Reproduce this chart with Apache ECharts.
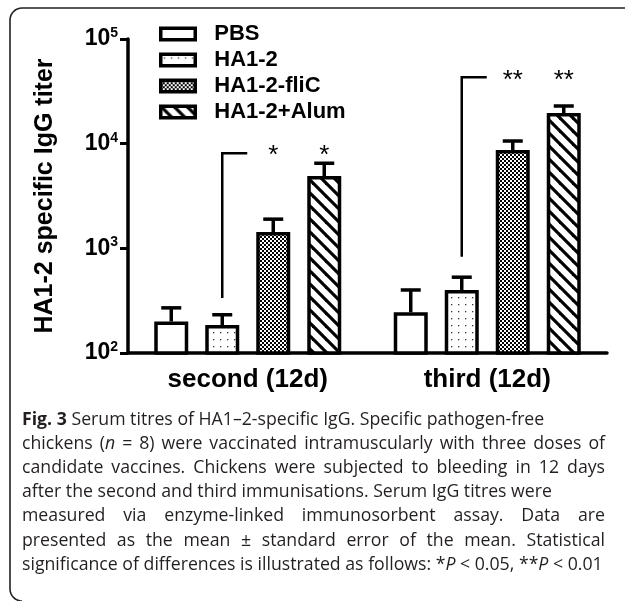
<!DOCTYPE html>
<html><head><meta charset="utf-8">
<script src="https://cdn.jsdelivr.net/npm/echarts@6/dist/echarts.min.js"></script>
<style>html,body{margin:0;padding:0;background:#fff}#c{width:627px;height:601px}</style>
</head><body><div id="c"></div>
<script>
// ---------------- data ----------------
const categories = ['second (12d)', 'third (12d)'];
const seriesNames = ['PBS', 'HA1-2', 'HA1-2-fliC', 'HA1-2+Alum'];
const pbsMean   = [200, 245];
const pbsUpper  = [270, 400];
const ha12Mean  = [185, 400];
const ha12Upper = [232, 530];
const flicMean  = [1430, 8700];
const flicUpper = [1900, 10600];
const alumMean  = [4900, 19600];
const alumUpper = [6500, 22900];
const sigBracketBottom = [335, 830];
const sigBracketTop = [8100, 43000];
const sigLabels = ['*', '**'];
const yAxisName = 'HA1-2 specific IgG titer';
const captionLines = [
  '{b:Fig.} {b:3} Serum titres of HA1\u20132-specific IgG. Specific pathogen-free',
  'chickens ({i:n} = 8) were vaccinated intramuscularly with three doses of',
  'candidate vaccines. Chickens were subjected to bleeding in 12 days',
  'after the second and third immunisations. Serum IgG titres were',
  'measured via enzyme-linked immunosorbent assay. Data are',
  'presented as the mean \u00b1 standard error of the mean. Statistical',
  'significance of differences is illustrated as follows: *{i:P} < 0.05, **{i:P} < 0.01'
];
const captionJustify = [false, true, true, false, true, true, false];

// ---------------- styling ----------------
const FONT = 'Arial, "Liberation Sans", sans-serif';
const BAR_W = 34, BAR_STEP = 51, LW = 3.5;

function makePattern(draw, w, h) {
  const c = document.createElement('canvas'); c.width = w; c.height = h;
  const ctx = c.getContext('2d'); ctx.fillStyle = '#fff'; ctx.fillRect(0, 0, w, h);
  draw(ctx, w, h);
  return { image: c, repeat: 'repeat' };
}
const fills = [
  '#ffffff',
  makePattern(ctx => { ctx.fillStyle = '#333'; ctx.fillRect(3, 3, 1.3, 1.3); }, 7, 7),
  makePattern(ctx => { ctx.fillStyle = '#000'; ctx.fillRect(0, 0, 2, 2); ctx.fillRect(2, 2, 2, 2); }, 4, 4),
  makePattern((ctx, w, h) => {
    ctx.strokeStyle = '#000'; ctx.lineWidth = 3.2;
    for (const o of [-w, 0, w]) { ctx.beginPath(); ctx.moveTo(o - 2, -2); ctx.lineTo(o + w + 2, h + 2); ctx.stroke(); }
  }, 13, 13)
];
const means = [pbsMean, ha12Mean, flicMean, alumMean];
const uppers = [pbsUpper, ha12Upper, flicUpper, alumUpper];

const barSeries = seriesNames.map((n, i) => ({
  type: 'bar', name: n, data: means[i], barWidth: BAR_W, barGap: '50%', z: 3,
  itemStyle: { color: fills[i], borderColor: '#000', borderWidth: LW },
  emphasis: { disabled: true }
}));

const errData = [];
for (let s = 0; s < means.length; s++) for (let c = 0; c < categories.length; c++) errData.push([c, s, means[s][c], uppers[s][c]]);

const errSeries = {
  type: 'custom', data: errData, encode: { x: 0, y: 3 }, z: 2, silent: true,
  renderItem: (p, api) => {
    const c = api.value(0), s = api.value(1);
    const b = api.coord([c, api.value(2)]), t = api.coord([c, api.value(3)]);
    const x = b[0] + (s - 1.5) * BAR_STEP;
    return { type: 'group', children: [
      { type: 'line', shape: { x1: x, y1: b[1], x2: x, y2: t[1] }, style: { stroke: '#000', lineWidth: LW } },
      { type: 'line', shape: { x1: x - 10, y1: t[1], x2: x + 10, y2: t[1] }, style: { stroke: '#000', lineWidth: LW } }
    ] };
  }
};

const sigData = categories.map((_, c) => [c, sigBracketBottom[c], sigBracketTop[c]]);
const sigSeries = {
  type: 'custom', data: sigData, encode: { x: 0, y: 2 }, z: 4, silent: true, clip: false,
  renderItem: (p, api) => {
    const c = api.value(0);
    const b = api.coord([c, api.value(1)]), t = api.coord([c, api.value(2)]);
    const x = b[0] + (1 - 1.5) * BAR_STEP;
    const children = [
      { type: 'polyline', shape: { points: [[x, b[1]], [x, t[1]], [x + 25, t[1]]] }, style: { stroke: '#000', lineWidth: 2.5, fill: null } }
    ];
    for (const s of [2, 3]) {
      children.push({ type: 'text', x: b[0] + (s - 1.5) * BAR_STEP, y: t[1] + 3,
        style: { text: sigLabels[c], fontSize: 26, fontFamily: FONT, fill: '#000', align: 'center', verticalAlign: 'middle' } });
    }
    return { type: 'group', children };
  }
};

// ---------------- caption layout ----------------
const CAP_FAMILY = '"Open Sans"';
const CAP_SIZE = 17.7, CAP_LEFT = 22, CAP_RIGHT = 605, CAP_TOP = 420, CAP_LH = 24.1;
const mctx = document.createElement('canvas').getContext('2d');
function segFont(st) { return (st === 'i' ? 'italic ' : '') + (st === 'b' ? 'bold ' : '') + CAP_SIZE + 'px ' + CAP_FAMILY; }
function measure(t, st) { mctx.font = segFont(st); return mctx.measureText(t).width; }
function parseWord(w) {
  const segs = []; const re = /\{([bi]):([^}]*)\}/g; let last = 0, m;
  while ((m = re.exec(w))) { if (m.index > last) segs.push({ t: w.slice(last, m.index), st: '' }); segs.push({ t: m[2], st: m[1] }); last = re.lastIndex; }
  if (last < w.length) segs.push({ t: w.slice(last), st: '' });
  return segs;
}
const captionGraphics = [];
captionLines.forEach((line, li) => {
  const words = line.split(' ').map(parseWord);
  const widths = words.map(ws => ws.reduce((a, s) => a + measure(s.t, s.st), 0));
  const total = widths.reduce((a, b) => a + b, 0);
  const gap = captionJustify[li] ? (CAP_RIGHT - CAP_LEFT - total) / (words.length - 1) : measure(' ', '');
  let x = CAP_LEFT; const y = CAP_TOP + li * CAP_LH;
  words.forEach((ws) => {
    ws.forEach(s => {
      captionGraphics.push({ type: 'text', x, y, silent: true, style: {
        text: s.t, fontSize: CAP_SIZE, fontFamily: CAP_FAMILY, fontWeight: s.st === 'b' ? 'bold' : 'normal',
        fontStyle: s.st === 'i' ? 'italic' : 'normal', fill: '#231f20', verticalAlign: 'middle' } });
      x += measure(s.t, s.st);
    });
    x += gap;
  });
});

// frame: open rounded border (top + left)
function arcPts(cx, cy, r, a0, a1) {
  const pts = []; for (let k = 0; k <= 8; k++) { const a = a0 + (a1 - a0) * k / 8; pts.push([cx + r * Math.cos(a), cy + r * Math.sin(a)]); } return pts;
}
const framePts = [[625, 8]].concat(arcPts(22, 20, 12, -Math.PI / 2, -Math.PI), arcPts(22, 589, 12, Math.PI, Math.PI / 2));

const chart = echarts.init(document.getElementById('c'), null, { renderer: 'canvas' });
chart.setOption({
  animation: false,
  backgroundColor: '#fff',
  grid: { left: 128, right: 20, top: 39, bottom: 248, outerBoundsMode: 'none', containLabel: false },
  legend: {
    orient: 'vertical', left: 159, top: 23, padding: 0, itemWidth: 34.5, itemHeight: 11.5, itemGap: 4,
    data: seriesNames, icon: 'rect', selectedMode: false,
    itemStyle: { borderWidth: 3.5, borderColor: '#000' },
    textStyle: { fontSize: 22, fontWeight: 'bold', color: '#000', fontFamily: FONT, lineHeight: 22, padding: [0, 0, 0, 14] }
  },
  xAxis: {
    type: 'category', data: categories,
    axisLine: { lineStyle: { color: '#000', width: LW } },
    axisTick: { alignWithLabel: true, length: 8, lineStyle: { color: '#000', width: 3 } },
    axisLabel: { fontSize: 26, fontWeight: 'bold', color: '#000', fontFamily: FONT, margin: 14 }
  },
  yAxis: {
    type: 'log', logBase: 10, min: 100, max: 100000,
    name: yAxisName, nameLocation: 'middle', nameGap: 70,
    nameTextStyle: { fontSize: 25, fontWeight: 'bold', color: '#000', fontFamily: FONT },
    axisLine: { show: true, lineStyle: { color: '#000', width: LW } },
    axisTick: { show: true, length: 8, lineStyle: { color: '#000', width: 3 } },
    splitLine: { show: false }, minorTick: { show: false },
    axisLabel: {
      margin: 10,
      formatter: v => '{b|10}{s|' + Math.round(Math.log10(v)) + '}',
      rich: {
        b: { fontSize: 23, fontWeight: 'bold', color: '#000', fontFamily: FONT, lineHeight: 26 },
        s: { fontSize: 14, fontWeight: 'bold', color: '#000', fontFamily: FONT, verticalAlign: 'top' }
      }
    }
  },
  graphic: [
    { type: 'polyline', silent: true, shape: { points: framePts }, style: { stroke: '#222', lineWidth: 1.6, fill: null } }
  ].concat(captionGraphics),
  series: barSeries.concat([errSeries, sigSeries])
});
</script></body></html>
